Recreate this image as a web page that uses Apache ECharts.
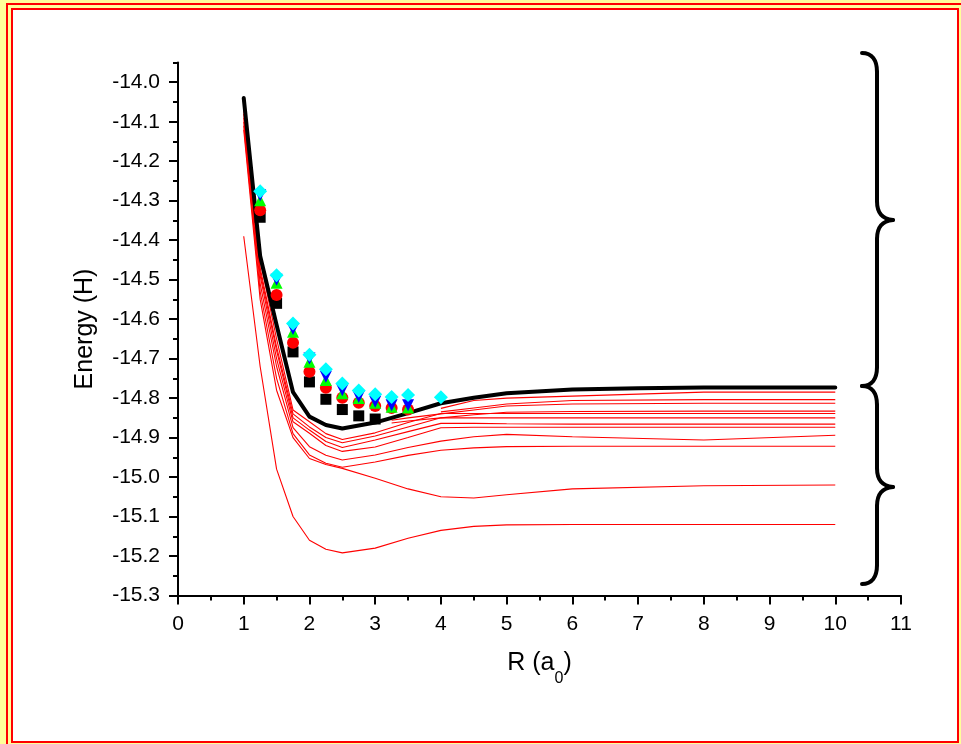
<!DOCTYPE html>
<html>
<head>
<meta charset="utf-8">
<script src="https://cdn.jsdelivr.net/npm/echarts@6/dist/echarts.min.js"></script>
<style>
  html, body { margin: 0; padding: 0; background: #ffff99; }
  #chart { width: 961px; height: 744px; }
</style>
</head>
<body>
<div id="chart"></div>
<script>
// ---------- tick labels ----------
const xTicks = [0, 1, 2, 3, 4, 5, 6, 7, 8, 9, 10, 11];
const yTicks = [-15.3, -15.2, -15.1, -15.0, -14.9, -14.8, -14.7, -14.6, -14.5, -14.4, -14.3, -14.2, -14.1, -14.0];
const yMinorTicks = [-15.25, -15.15, -15.05, -14.95, -14.85, -14.75, -14.65, -14.55, -14.45, -14.35, -14.25, -14.15, -14.05, -13.95];

// ---------- black thick curve ----------
const R_black = [1, 1.25, 1.5, 1.75, 2, 2.25, 2.5, 3, 3.5, 4, 4.5, 5, 6, 7, 8, 9, 10];
const E_black = [-14.04, -14.44, -14.615, -14.785, -14.847, -14.868, -14.877, -14.862, -14.838, -14.813, -14.799, -14.788, -14.778, -14.775, -14.773, -14.773, -14.773];

// ---------- markers ----------
const R_sq = [1.25, 1.5, 1.75, 2, 2.25, 2.5, 2.75, 3];
const E_sq = [-14.342, -14.56, -14.683, -14.759, -14.803, -14.829, -14.845, -14.853];
const R_mk = [1.25, 1.5, 1.75, 2, 2.25, 2.5, 2.75, 3, 3.25, 3.5];
const E_circle = [-14.324, -14.539, -14.66, -14.733, -14.774, -14.799, -14.812, -14.82, -14.825, -14.829];
const E_triUp = [-14.299, -14.508, -14.632, -14.708, -14.754, -14.788, -14.80, -14.812, -14.822, -14.824];
const E_triDown = [-14.286, -14.50, -14.625, -14.70, -14.746, -14.78, -14.797, -14.809, -14.818, -14.818];
const R_dia = [1.25, 1.5, 1.75, 2, 2.25, 2.5, 2.75, 3, 3.25, 3.5, 4];
const E_dia = [-14.276, -14.489, -14.611, -14.69, -14.727, -14.763, -14.781, -14.79, -14.797, -14.792, -14.798];

// ---------- thin red curves ----------
const R_full = [1, 1.25, 1.5, 1.75, 2, 2.25, 2.5, 3, 3.5, 4, 4.5, 5, 6, 8, 10];
const E_redA = [-14.39, -14.72, -14.98, -15.10, -15.16, -15.183, -15.192, -15.18, -15.155, -15.135, -15.125, -15.121, -15.12, -15.12, -15.12];
const E_redB = [-14.12, -14.55, -14.78, -14.90, -14.953, -14.968, -14.978, -15.003, -15.03, -15.05, -15.053, -15.045, -15.03, -15.022, -15.02];
const E_redC = [-14.06, -14.45, -14.65, -14.83, -14.86, -14.89, -14.905, -14.888, -14.862, -14.839, -14.839, -14.839, -14.839, -14.839, -14.839];
const E_redD = [-14.07, -14.47, -14.67, -14.84, -14.873, -14.90, -14.913, -14.896, -14.873, -14.85, -14.85, -14.85, -14.85, -14.85, -14.85];
const E_redE = [-14.08, -14.48, -14.68, -14.85, -14.881, -14.91, -14.925, -14.906, -14.885, -14.864, -14.864, -14.865, -14.866, -14.866, -14.866];
const E_redF = [-14.09, -14.49, -14.70, -14.86, -14.889, -14.92, -14.935, -14.924, -14.90, -14.875, -14.874, -14.874, -14.874, -14.874, -14.874];
const E_redG = [-14.10, -14.51, -14.72, -14.875, -14.923, -14.945, -14.957, -14.944, -14.925, -14.909, -14.898, -14.892, -14.898, -14.906, -14.894];
const E_redH = [-14.11, -14.53, -14.75, -14.89, -14.944, -14.965, -14.975, -14.962, -14.945, -14.932, -14.926, -14.923, -14.922, -14.922, -14.922];
const R_late4 = [4, 4.5, 5, 6, 8, 10];
const E_redI = [-14.826, -14.806, -14.80, -14.795, -14.785, -14.785];
const E_redJ = [-14.835, -14.825, -14.815, -14.806, -14.804, -14.804];
const R_late3 = [3.25, 3.5, 4, 4.5, 5, 6, 8, 10];
const E_redK = [-14.856, -14.85, -14.84, -14.83, -14.82, -14.815, -14.813, -14.813];
const E_redL = [-14.863, -14.858, -14.85, -14.842, -14.836, -14.834, -14.833, -14.833];

function pairs(xs, ys) { return ys.map((y, i) => [xs[i], y]); }

const FONT = '"Liberation Sans", Arial, sans-serif';

const redSets = [
  [R_full, E_redA], [R_full, E_redB], [R_full, E_redC], [R_full, E_redD],
  [R_full, E_redE], [R_full, E_redF], [R_full, E_redG], [R_full, E_redH],
  [R_late4, E_redI], [R_late4, E_redJ], [R_late3, E_redK], [R_late3, E_redL]
];

const series = [];
redSets.forEach((s, i) => {
  series.push({
    type: 'line', name: 'red' + i, data: pairs(s[0], s[1]),
    symbol: 'none', smooth: false, z: 2, silent: true,
    lineStyle: { color: '#ff0000', width: 1.1, opacity: 1 }
  });
});
series.push({
  type: 'line', name: 'black', data: pairs(R_black, E_black),
  symbol: 'none', smooth: false, z: 3, silent: true,
  lineStyle: { color: '#000000', width: 4, cap: 'round', join: 'round', opacity: 1 }
});
const markerDefs = [
  ['sq', R_sq, E_sq, 'rect', 11, 0, '#000000'],
  ['circ', R_mk, E_circle, 'circle', 12, 0, '#ff0000'],
  ['triUp', R_mk, E_triUp, 'triangle', 12, 0, '#00ff00'],
  ['triDown', R_mk, E_triDown, 'triangle', 12, 180, '#0000ff'],
  ['dia', R_dia, E_dia, 'diamond', 14, 0, '#00ffff']
];
markerDefs.forEach(m => {
  series.push({
    type: 'scatter', name: m[0], data: pairs(m[1], m[2]), symbol: m[3], symbolSize: m[4],
    symbolRotate: m[5], z: 4, silent: true,
    itemStyle: { color: m[6], opacity: 1 },
    emphasis: { disabled: true }
  });
});

// brace decoration: built from bezier segments and straight lines
function braceParts(xTip, xMid, xPt, yTop, yPt, yBot) {
  const st = { stroke: '#000000', lineWidth: 4, lineCap: 'round', fill: null };
  const bz = (x1, y1, cx1, cy1, cx2, cy2, x2, y2) => ({ type: 'bezierCurve', z: 10, silent: true,
    shape: { x1, y1, cpx1: cx1, cpy1: cy1, cpx2: cx2, cpy2: cy2, x2, y2 }, style: st });
  const ln = (x1, y1, x2, y2) => ({ type: 'line', z: 10, silent: true, shape: { x1, y1, x2, y2 }, style: st });
  return [
    bz(xTip, yTop, xTip + 10, yTop, xMid, yTop + 7, xMid, yTop + 19),
    ln(xMid, yTop + 19, xMid, yPt - 19),
    bz(xMid, yPt - 19, xMid, yPt - 7, xMid + 5, yPt - 1, xPt, yPt),
    bz(xPt, yPt, xMid + 5, yPt + 1, xMid, yPt + 7, xMid, yPt + 19),
    ln(xMid, yPt + 19, xMid, yBot - 19),
    bz(xMid, yBot - 19, xMid, yBot - 7, xTip + 10, yBot, xTip, yBot)
  ];
}

const chart = echarts.init(document.getElementById('chart'), null, { renderer: 'canvas' });
chart.setOption({
  animation: false,
  backgroundColor: '#ffff99',
  graphic: [
    { type: 'rect', z: -10, silent: true, shape: { x: 7, y: 4, width: 962, height: 748 },
      style: { fill: null, stroke: '#ff0000', lineWidth: 2 } },
    { type: 'rect', z: -9, silent: true, shape: { x: 12, y: 9, width: 946, height: 733 },
      style: { fill: '#ffffff', stroke: '#ff0000', lineWidth: 2 } }
  ].concat(braceParts(862, 877, 893, 53, 220, 386)).concat(braceParts(862, 877, 893, 386, 487, 584)),
  grid: { left: 178, right: 60, top: 62.5, bottom: 148.5, containLabel: false },
  xAxis: {
    type: 'value', min: 0, max: 11, interval: 1,
    axisLine: { show: true, onZero: false, lineStyle: { color: '#000', width: 2 } },
    axisTick: { show: true, length: 9, lineStyle: { color: '#000', width: 2 } },
    minorTick: { show: true, splitNumber: 2, length: 5, lineStyle: { color: '#000', width: 2 } },
    splitLine: { show: false },
    axisLabel: { color: '#000', fontSize: 21, fontFamily: FONT, margin: 18,
      formatter: v => String(xTicks[Math.round(v)]) },
    name: '{n|R (a}{s|0}{n|)}',
    nameLocation: 'middle', nameGap: 55,
    nameTextStyle: {
      rich: {
        n: { fontSize: 25, fontFamily: FONT, color: '#000', lineHeight: 30, verticalAlign: 'top' },
        s: { fontSize: 16, fontFamily: FONT, color: '#000', lineHeight: 16, padding: [20, 0, 0, 0], verticalAlign: 'top' }
      }
    }
  },
  yAxis: [
    {
      type: 'value', min: -15.3, max: -13.95, position: 'left',
      axisLine: { show: true, onZero: false, lineStyle: { color: '#000', width: 2 } },
      axisTick: { show: true, length: 9, customValues: yTicks, lineStyle: { color: '#000', width: 2 } },
      splitLine: { show: false },
      axisLabel: { color: '#000', fontSize: 21, fontFamily: FONT, margin: 18, customValues: yTicks,
        formatter: v => v.toFixed(1) },
      name: 'Energy (H)', nameLocation: 'middle', nameGap: 80,
      nameTextStyle: { fontSize: 25, fontFamily: FONT, color: '#000' }
    },
    {
      type: 'value', min: -15.3, max: -13.95, position: 'left',
      axisLine: { show: false },
      axisTick: { show: true, length: 5, customValues: yMinorTicks, lineStyle: { color: '#000', width: 2 } },
      splitLine: { show: false },
      axisLabel: { show: false }
    }
  ],
  series: series
});
</script>
</body>
</html>
